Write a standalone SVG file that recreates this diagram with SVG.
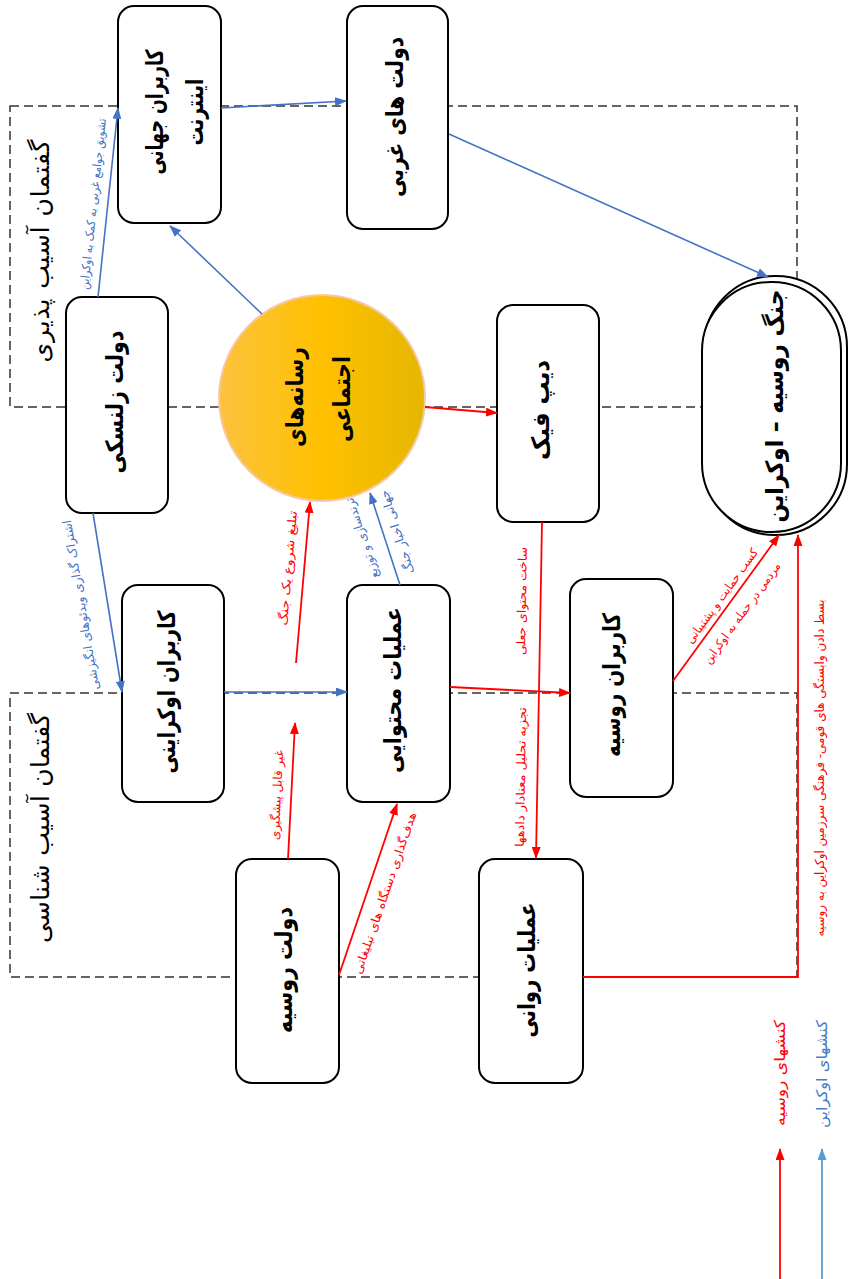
<svg xmlns="http://www.w3.org/2000/svg" width="853" height="1279" viewBox="0 0 853 1279">
<style>
.box{fill:#fff;stroke:#000;stroke-width:2}
.dash{fill:none;stroke:#333;stroke-width:1.5;stroke-dasharray:9 5}
.bl{stroke:#4472C4;stroke-width:1.6;fill:none}
.rd{stroke:#FF0000;stroke-width:1.8;fill:none}
.t{font-family:"DejaVu Sans",sans-serif;text-anchor:middle;dominant-baseline:central;direction:rtl}
.tb{font-weight:bold;font-size:24px;fill:#000}
.tt{font-size:25px;fill:#000}
.lb{font-size:12px;fill:#4472C4}
.lr{font-size:12px;fill:#FF0000}
</style>
<defs>
<linearGradient id="gold" x1="0" y1="0" x2="1" y2="0">
<stop offset="0" stop-color="#FCC23E"/>
<stop offset="0.5" stop-color="#FFC000"/>
<stop offset="1" stop-color="#E5B700"/>
</linearGradient>
<marker id="ab" viewBox="0 0 12 9" refX="11" refY="4.5" markerWidth="12" markerHeight="9" markerUnits="userSpaceOnUse" orient="auto"><path d="M0,0 L12,4.5 L0,9 z" fill="#4472C4"/></marker>
<marker id="ar" viewBox="0 0 12 9" refX="11" refY="4.5" markerWidth="12" markerHeight="9" markerUnits="userSpaceOnUse" orient="auto"><path d="M0,0 L12,4.5 L0,9 z" fill="#FF0000"/></marker>
<marker id="al" viewBox="0 0 12 9" refX="11" refY="4.5" markerWidth="12" markerHeight="9" markerUnits="userSpaceOnUse" orient="auto"><path d="M0,0 L12,4.5 L0,9 z" fill="#5B9BD5"/></marker>
</defs>
<rect width="853" height="1279" fill="#fff"/>

<g id="regions">
<rect class="dash" x="10" y="106" width="787" height="301"/>
<rect class="dash" x="10" y="693" width="787" height="284"/>
<text class="t tt" transform="translate(40,251) rotate(-90)" textLength="223" lengthAdjust="spacing">گفتمان  آسیب  پذیری</text>
<text class="t tt" transform="translate(40,828) rotate(-90)" textLength="230" lengthAdjust="spacing">گفتمان  آسیب  شناسی</text>
</g>

<g id="n-global-users">
<rect class="box" x="118" y="6" width="103" height="217" rx="16"/>
<text class="t tb" transform="translate(155,112) rotate(-90)" textLength="125" lengthAdjust="spacingAndGlyphs">کاربران جهانی</text>
<text class="t tb" transform="translate(195,112) rotate(-90)" textLength="67" lengthAdjust="spacingAndGlyphs">اینترنت</text>
</g>
<g id="n-western-gov">
<rect class="box" x="347" y="6" width="101" height="223" rx="16"/>
<text class="t tb" transform="translate(395,117) rotate(-90)" textLength="160" lengthAdjust="spacingAndGlyphs">دولت های غربی</text>
</g>
<g id="n-zelensky">
<rect class="box" x="66" y="297" width="102" height="216" rx="16"/>
<text class="t tb" transform="translate(115,402) rotate(-90)" textLength="143" lengthAdjust="spacingAndGlyphs">دولت زلنسکی</text>
</g>
<g id="n-social-media">
<circle cx="322" cy="398" r="103" fill="url(#gold)" stroke="#F6C9A6" stroke-width="2"/>
<text class="t tb" transform="translate(295,397) rotate(-90)" textLength="100" lengthAdjust="spacingAndGlyphs">رسانه‌های</text>
<text class="t tb" transform="translate(342,399) rotate(-90)" textLength="86" lengthAdjust="spacingAndGlyphs">اجتماعی</text>
</g>
<g id="n-deepfake">
<rect class="box" x="497" y="305" width="102" height="217" rx="16"/>
<text class="t tb" transform="translate(541,410) rotate(-90)" textLength="100" lengthAdjust="spacingAndGlyphs">دیپ فیک</text>
</g>
<g id="n-war">
<rect x="704" y="276" width="143" height="259" rx="71" fill="#fff" stroke="#000" stroke-width="2"/>
<rect x="702" y="282" width="139" height="250" rx="69" fill="#fff" stroke="#000" stroke-width="2"/>
<text class="t tb" transform="translate(775,406) rotate(-90)" textLength="233" lengthAdjust="spacingAndGlyphs">جنگ روسیه – اوکراین</text>
</g>
<g id="n-ukr-users">
<rect class="box" x="122" y="585" width="102" height="217" rx="16"/>
<text class="t tb" transform="translate(167,692) rotate(-90)" textLength="163" lengthAdjust="spacingAndGlyphs">کاربران اوکراینی</text>
</g>
<g id="n-content-ops">
<rect class="box" x="347" y="585" width="103" height="217" rx="16"/>
<text class="t tb" transform="translate(393,690) rotate(-90)" textLength="166" lengthAdjust="spacingAndGlyphs">عملیات محتوایی</text>
</g>
<g id="n-rus-users">
<rect class="box" x="570" y="579" width="103" height="218" rx="16"/>
<text class="t tb" transform="translate(612,685) rotate(-90)" textLength="144" lengthAdjust="spacingAndGlyphs">کاربران روسیه</text>
</g>
<g id="n-rus-gov">
<rect class="box" x="236" y="859" width="103" height="224" rx="16"/>
<text class="t tb" transform="translate(284,970) rotate(-90)" textLength="126" lengthAdjust="spacingAndGlyphs">دولت روسیه</text>
</g>
<g id="n-psy-ops">
<rect class="box" x="479" y="859" width="104" height="224" rx="16"/>
<text class="t tb" transform="translate(527,970) rotate(-90)" textLength="135" lengthAdjust="spacingAndGlyphs">عملیات روانی</text>
</g>

<g id="connectors">
<line class="bl" x1="98" y1="297" x2="118" y2="108" marker-end="url(#ab)"/>
<text class="t lb" transform="translate(93,204) rotate(-84)" textLength="172" lengthAdjust="spacingAndGlyphs">تشویق جوامع غربی به کمک به اوکراین</text>
<line class="bl" x1="221" y1="108" x2="346" y2="101" marker-end="url(#ab)"/>
<line class="bl" x1="449" y1="134" x2="768" y2="277" marker-end="url(#ab)"/>
<line class="bl" x1="262" y1="314" x2="170" y2="226" marker-end="url(#ab)"/>
<line class="bl" x1="93" y1="513" x2="122" y2="692" marker-end="url(#ab)"/>
<text class="t lb" transform="translate(81,605) rotate(-99.5)" textLength="172" lengthAdjust="spacingAndGlyphs">اشتراک گذاری ویدئوهای انگیزشی</text>
<line class="bl" x1="400" y1="585" x2="370" y2="493" marker-end="url(#ab)"/>
<text class="t lb" transform="translate(362,538) rotate(-108)" textLength="84" lengthAdjust="spacingAndGlyphs">ترندسازی و توزیع</text>
<text class="t lb" transform="translate(397,532) rotate(-108)" textLength="87" lengthAdjust="spacingAndGlyphs">جهانی اخبار جنگ</text>
<line class="bl" x1="224" y1="692" x2="347" y2="692" marker-end="url(#ab)"/>

<line class="rd" x1="288" y1="859" x2="295" y2="723" marker-end="url(#ar)"/>
<text class="t lr" transform="translate(277,795) rotate(-87)" textLength="90" lengthAdjust="spacingAndGlyphs">غیر قابل پیشگیری</text>
<line class="rd" x1="296" y1="663" x2="310" y2="502" marker-end="url(#ar)"/>
<text class="t lr" transform="translate(288,568) rotate(-85)" textLength="115" lengthAdjust="spacingAndGlyphs">تبلیغ شروع یک جنگ</text>
<line class="rd" x1="339" y1="975" x2="397" y2="804" marker-end="url(#ar)"/>
<text class="t lr" transform="translate(385,893) rotate(-71)" textLength="170" lengthAdjust="spacingAndGlyphs">هدف‌گذاری دستگاه های تبلیغاتی</text>
<line class="rd" x1="425" y1="407" x2="497" y2="413" marker-end="url(#ar)"/>
<line class="rd" x1="542" y1="522" x2="536" y2="858" marker-end="url(#ar)"/>
<text class="t lr" transform="translate(522,601) rotate(-89)" textLength="108" lengthAdjust="spacingAndGlyphs">ساخت محتوای جعلی</text>
<text class="t lr" transform="translate(521,777) rotate(-89)" textLength="140" lengthAdjust="spacingAndGlyphs">تجزیه تحلیل معنادار دادهها</text>
<line class="rd" x1="450" y1="687" x2="570" y2="693" marker-end="url(#ar)"/>
<line class="rd" x1="673" y1="681" x2="779" y2="535" marker-end="url(#ar)"/>
<text class="t lr" transform="translate(722,596) rotate(-54)" textLength="114" lengthAdjust="spacingAndGlyphs">کسب حمایت و پشتیبانی</text>
<text class="t lr" transform="translate(742,613) rotate(-54)" textLength="122" lengthAdjust="spacingAndGlyphs">مردمی در حمله به اوکراین</text>
<polyline class="rd" points="583,977 798,977 798,535" marker-end="url(#ar)"/>
<text class="t lr" style="font-size:12.5px" transform="translate(819,768) rotate(-90)" textLength="337" lengthAdjust="spacingAndGlyphs">بسط دادن وابستگی های قومی- فرهنگی سرزمین اوکراین به روسیه</text>
</g>

<g id="legend">
<line x1="780" y1="1279" x2="780" y2="1149" stroke="#FF0000" stroke-width="1.8" marker-end="url(#ar)"/>
<line x1="822" y1="1279" x2="822" y2="1149" stroke="#5B9BD5" stroke-width="1.8" marker-end="url(#al)"/>
<text class="t" style="font-size:15px;fill:#FF0000" transform="translate(780,1073) rotate(-90)" textLength="106" lengthAdjust="spacingAndGlyphs">کنشهای روسیه</text>
<text class="t" style="font-size:15px;fill:#4A7EC4" transform="translate(822,1074) rotate(-90)" textLength="108" lengthAdjust="spacingAndGlyphs">کنشهای اوکراین</text>
</g>
</svg>
